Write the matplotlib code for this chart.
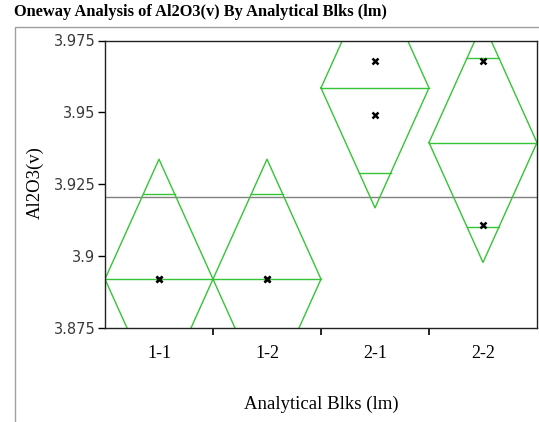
import numpy as np
import matplotlib
matplotlib.use('Agg')
import matplotlib.pyplot as plt
from matplotlib.lines import Line2D

# Data
groups = ['1-1', '1-2', '2-1', '2-2']
values = {
    '1-1': [3.892, 3.892],
    '1-2': [3.892, 3.892],
    '2-1': [3.968, 3.949],
    '2-2': [3.968, 3.911],
}
y_ticks = [3.875, 3.9, 3.925, 3.95, 3.975]
y_tick_labels = ['3.875', '3.9', '3.925', '3.95', '3.975']

green = '#35c435'
serif = ['Liberation Serif', 'DejaVu Serif']

# Oneway ANOVA pieces: group means, pooled error, 95% CI diamonds
all_vals = np.concatenate([values[g] for g in groups])
grand_mean = all_vals.mean()
means = np.array([np.mean(values[g]) for g in groups])
ns = np.array([len(values[g]) for g in groups])
sse = sum(((np.array(values[g]) - np.mean(values[g])) ** 2).sum() for g in groups)
dfe = len(all_vals) - len(groups)
rmse = np.sqrt(sse / dfe)
t_crit = 2.776445  # t(0.975, 4)
ci = t_crit * rmse / np.sqrt(ns)
overlap = ci * np.sqrt(2) / 2

fig = plt.figure(figsize=(5.39, 4.22), dpi=100)
ax = fig.add_axes([105 / 539, (422 - 328) / 422, 432 / 539, 287.5 / 422])

for i, g in enumerate(groups):
    left, mid, right = i, i + 0.5, i + 1
    m, h = means[i], ci[i]
    ax.plot([left, mid, right, mid, left], [m, m + h, m, m - h, m],
            color=green, lw=1.0, zorder=2)
    ax.plot([left, right], [m, m], color=green, lw=1.0, zorder=2)
    hw = 0.5 * (1 - overlap[i] / h)
    for s in (1, -1):
        ax.plot([mid - hw, mid + hw], [m + s * overlap[i]] * 2,
                color=green, lw=1.0, zorder=2)
    ax.plot([mid] * len(values[g]), values[g], 'x', color='black',
            ms=5, mew=1.8, zorder=3)

ax.axhline(grand_mean, color='#808080', lw=1.0, zorder=1)

ax.set_xlim(0, 4)
ax.set_ylim(3.875, 3.975)
ax.set_yticks(y_ticks)
ax.set_yticklabels(y_tick_labels, family='DejaVu Sans', fontsize=10.5, color='#3a3a3a')
ax.set_xticks([0.5, 1.5, 2.5, 3.5])
ax.set_xticklabels(groups, family=serif, fontsize=13)
ax.set_xticks([1, 2, 3], minor=True)
ax.tick_params(axis='x', which='major', length=0, pad=12)
ax.tick_params(axis='x', which='minor', length=5, width=1.2, direction='out')
ax.tick_params(axis='y', length=5, width=1.0, direction='out', pad=2)
for sp in ax.spines.values():
    sp.set_color('#222222')
    sp.set_linewidth(1.0)

fig.text(35 / 539, 1 - 183 / 422, 'Al2O3(v)', rotation=90, family=serif,
         fontsize=13.5, ha='center', va='center')
fig.text(321 / 539, 1 - 404 / 422, 'Analytical Blks (lm)', family=serif,
         fontsize=13.5, ha='center', va='center')
fig.text(14 / 539, 1 - 12 / 422, 'Oneway Analysis of Al2O3(v) By Analytical Blks (lm)',
         family=serif, fontweight='bold', fontsize=11.8, ha='left', va='center')

# outer report frame
fig.add_artist(Line2D([15 / 539, 15 / 539, 1.0], [0.0, 1 - 27 / 422, 1 - 27 / 422],
                      color='#a0a0a0', lw=1.0, transform=fig.transFigure))

fig.savefig('out.png', dpi=100)
